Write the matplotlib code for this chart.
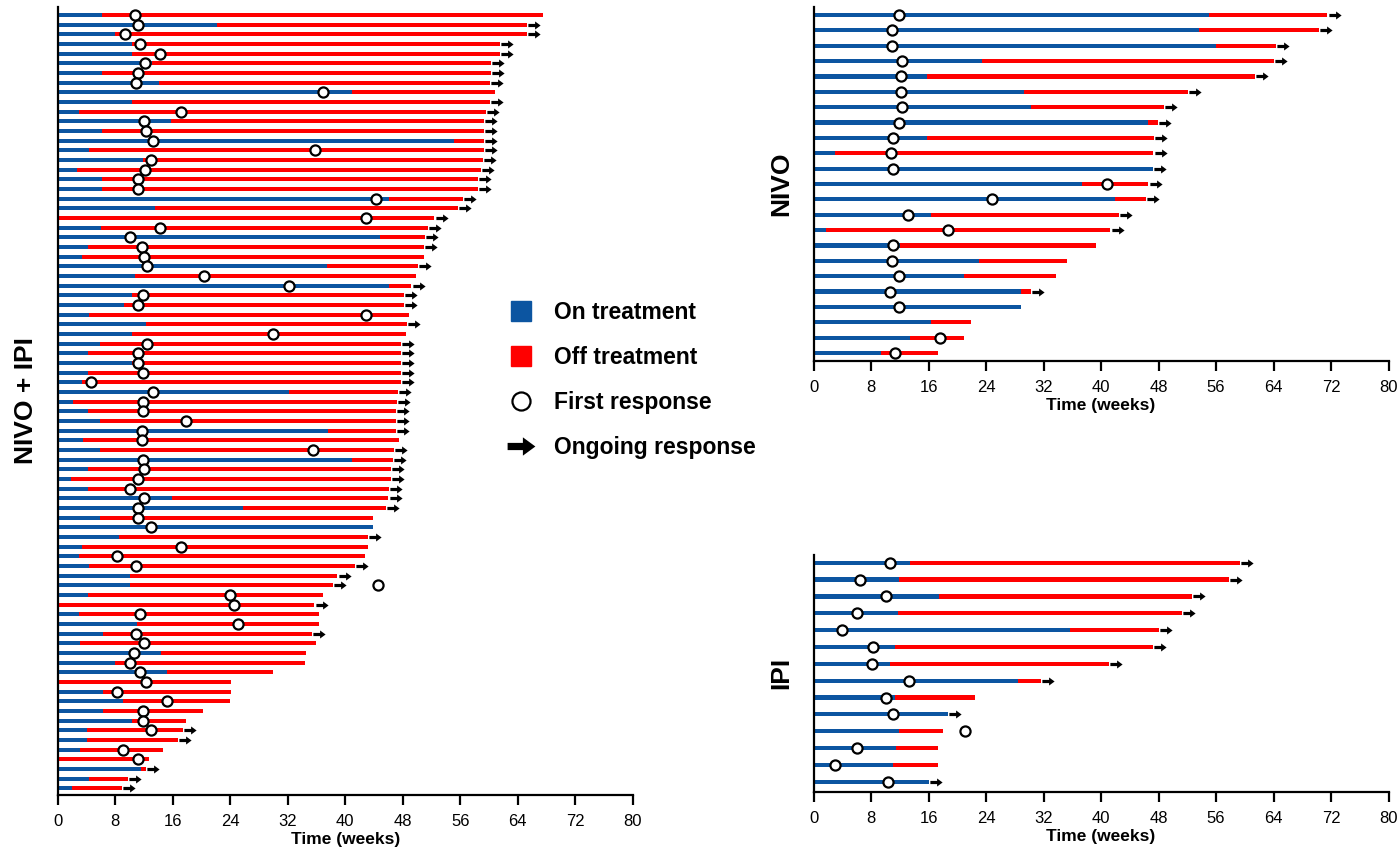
import numpy as np
import matplotlib
matplotlib.use("Agg")
import matplotlib.pyplot as plt
from matplotlib.path import Path
from matplotlib.lines import Line2D

plt.rcParams['font.family'] = ['Liberation Sans', 'DejaVu Sans']

BLUE = '#0C55A1'
RED = '#FF0000'
nan = np.nan

# NIVO + IPI: end of treatment, end of follow-up, first response, ongoing response (1/0)
combo_on = [6.1, 22.2, 8.0, 10.3, 10.3, 13.1, 6.1, 14.1, 41.0, 10.3,
            2.9, 15.7, 6.1, 55.1, 4.4, 11.9, 2.6, 6.1, 6.1, 46.1,
            13.5, 0.2, 6.0, 44.8, 4.2, 3.3, 37.4, 10.7, 46.1, 10.3,
            9.2, 4.3, 12.2, 10.3, 5.9, 4.2, 10.3, 4.2, 3.3, 32.1,
            2.1, 4.2, 5.9, 37.6, 3.5, 5.8, 41.0, 4.2, 1.9, 4.2,
            15.9, 25.8, 5.8, 43.8, 8.5, 3.3, 3.0, 4.3, 10.1, 10.1,
            4.2, 0.2, 2.9, 11.0, 6.3, 3.1, 14.3, 8.0, 15.2, 0.2,
            6.3, 9.0, 6.3, 10.3, 4.0, 4.0, 3.1, 0.2, 11.6, 4.3, 2.0]
combo_end = [67.5, 65.3, 65.3, 61.5, 61.5, 60.3, 60.3, 60.1, 60.8, 60.1,
             59.6, 59.3, 59.3, 59.3, 59.3, 59.1, 58.9, 58.4, 58.4, 56.4,
             55.7, 52.4, 51.5, 51.1, 50.9, 50.9, 50.1, 49.9, 49.2, 48.2,
             48.2, 48.9, 48.6, 48.5, 47.7, 47.7, 47.7, 47.7, 47.7, 47.3,
             47.2, 47.0, 47.0, 47.0, 47.5, 46.8, 46.6, 46.4, 46.4, 46.1,
             46.0, 45.6, 43.8, 43.8, 43.1, 43.1, 42.8, 41.3, 38.9, 38.3,
             36.9, 35.7, 36.4, 36.3, 35.4, 35.9, 34.6, 34.4, 29.9, 24.1,
             24.1, 23.9, 20.2, 17.9, 17.4, 16.7, 14.7, 12.7, 12.2, 9.7, 8.9]
combo_resp = [10.7, 11.1, 9.4, 11.5, 14.2, 12.1, 11.2, 10.9, 36.9, nan,
              17.2, 12.0, 12.2, 13.2, 35.8, 13.0, 12.1, 11.2, 11.1, 44.3,
              nan, 42.9, 14.2, 10.0, 11.7, 12.0, 12.4, 20.4, 32.2, 11.8,
              11.1, 42.9, nan, 30.0, 12.4, 11.1, 11.2, 11.9, 4.6, 13.2,
              11.9, 11.9, 17.9, 11.7, 11.7, 35.5, 11.9, 12.0, 11.1, 10.0,
              12.0, 11.2, 11.2, 12.9, nan, 17.2, 8.2, 10.9, nan, 44.5,
              23.9, 24.5, 11.4, 25.0, 10.9, 12.0, 10.6, 10.0, 11.4, 12.3,
              8.3, 15.2, 11.8, 11.8, 13.0, nan, 9.0, 11.2, nan, nan, nan]
combo_ongoing = [0, 1, 1, 1, 1, 1, 1, 1, 0, 1,
                 1, 1, 1, 1, 1, 1, 1, 1, 1, 1,
                 1, 1, 1, 1, 1, 0, 1, 0, 1, 1,
                 1, 0, 1, 0, 1, 1, 1, 1, 1, 1,
                 1, 1, 1, 1, 0, 1, 1, 1, 1, 1,
                 1, 1, 0, 0, 1, 0, 0, 1, 1, 1,
                 0, 1, 0, 0, 1, 0, 0, 0, 0, 0,
                 0, 0, 0, 0, 1, 1, 0, 0, 1, 1, 1]

# NIVO
nivo_on = [55.0, 53.6, 56.0, 23.4, 15.8, 29.3, 30.2, 46.6, 15.8, 3.0, 47.2, 37.3,
           41.9, 16.4, 1.7, 12.0, 23.0, 21.0, 28.9, 28.9, 16.4, 13.4, 9.4]
nivo_end = [71.5, 70.3, 64.3, 64.0, 61.4, 52.1, 48.8, 47.9, 47.4, 47.3, 47.2, 46.6,
            46.2, 42.5, 41.3, 39.3, 35.3, 33.7, 30.2, 28.9, 21.9, 21.0, 17.3]
nivo_resp = [11.9, 10.9, 10.9, 12.3, 12.1, 12.1, 12.3, 11.9, 11.0, 10.8, 11.0, 40.8,
             24.8, 13.1, 18.7, 11.0, 10.9, 11.9, 10.7, 11.9, nan, 17.6, 11.4]
nivo_ongoing = [1, 1, 1, 1, 1, 1, 1, 1, 1, 1, 1, 1,
                1, 1, 1, 0, 0, 0, 1, 0, 0, 0, 0]

# IPI
ipi_on = [13.4, 11.9, 17.5, 11.8, 35.7, 11.3, 10.7, 28.4, 11.4, 18.7, 11.9, 11.5, 11.1, 16.1]
ipi_end = [59.3, 57.8, 52.7, 51.2, 48.1, 47.2, 41.1, 31.6, 22.5, 18.7, 18.0, 17.3, 17.3, 16.1]
ipi_resp = [10.6, 6.4, 10.1, 6.0, 4.0, 8.3, 8.2, 13.3, 10.1, 11.1, 21.1, 6.1, 3.0, 10.4]
ipi_ongoing = [1, 1, 1, 1, 1, 1, 1, 1, 0, 1, 0, 0, 0, 1]

arrow = Path([(-1, -0.26), (0.1, -0.26), (0.1, -0.66), (1, 0), (0.1, 0.66),
              (0.1, 0.26), (-1, 0.26), (-1, -0.26)],
             [Path.MOVETO] + [Path.LINETO] * 6 + [Path.CLOSEPOLY])


def swimmer(ax, on, end, resp, ongoing, bar_h, ylim, label):
    on = np.array(on)
    end = np.array(end)
    resp = np.array(resp, dtype=float)
    ong = np.array(ongoing, dtype=bool)
    y = np.arange(len(on))
    ax.barh(y, on, height=bar_h, color=BLUE, linewidth=0)
    ax.barh(y, end - on, left=on, height=bar_h, color=RED, linewidth=0)
    ax.plot(end[ong] + 1.0, y[ong], ls='none', marker=arrow, ms=8.8,
            color='black', mew=0)
    ok = ~np.isnan(resp)
    ax.plot(resp[ok], y[ok], ls='none', marker='o', ms=7.3, mfc='white',
            mec='black', mew=1.6, zorder=4)
    ax.set_xlim(0, 80)
    ax.set_ylim(*ylim)
    ax.set_xticks(range(0, 81, 8))
    ax.set_yticks([])
    for s in ['top', 'right']:
        ax.spines[s].set_visible(False)
    for s in ['left', 'bottom']:
        ax.spines[s].set_linewidth(1.6)
    ax.tick_params(axis='x', direction='out', length=7, width=1.6,
                   labelsize=12, pad=7)
    ax.set_xlabel('Time (weeks)', fontsize=12.5, fontweight='bold', labelpad=2)
    ax.set_ylabel(label, fontsize=19, fontweight='bold', labelpad=14.5)


fig = plt.figure(figsize=(14, 8.52), dpi=100)
ax1 = fig.add_axes([0.0413, 0.0669, 0.4107, 0.9249])
ax2 = fig.add_axes([0.5811, 0.5763, 0.4107, 0.4158])
ax3 = fig.add_axes([0.5811, 0.0708, 0.4107, 0.2778])

swimmer(ax1, combo_on, combo_end, combo_resp, combo_ongoing, 0.42, (80.69, -0.83), 'NIVO + IPI')
swimmer(ax2, nivo_on, nivo_end, nivo_resp, nivo_ongoing, 0.27, (22.52, -0.54), 'NIVO')
swimmer(ax3, ipi_on, ipi_end, ipi_resp, ipi_ongoing, 0.25, (13.59, -0.46), 'IPI')

handles = [
    Line2D([], [], ls='none', marker='s', ms=14.5, mfc=BLUE, mec=BLUE),
    Line2D([], [], ls='none', marker='s', ms=14.5, mfc=RED, mec=RED),
    Line2D([], [], ls='none', marker='o', ms=13, mfc='white', mec='black', mew=1.6),
    Line2D([], [], ls='none', marker=arrow, ms=20, color='black', mew=0),
]
labels = ['On treatment', 'Off treatment', 'First response', 'Ongoing response']
fig.legend(handles, labels, loc='center left', bbox_to_anchor=(0.3532, 0.554),
           frameon=False, prop={'weight': 'bold', 'size': 16.5}, borderpad=0,
           handlelength=1.35, handletextpad=0.75, labelspacing=0.95)

fig.savefig('out.png', dpi=100)
